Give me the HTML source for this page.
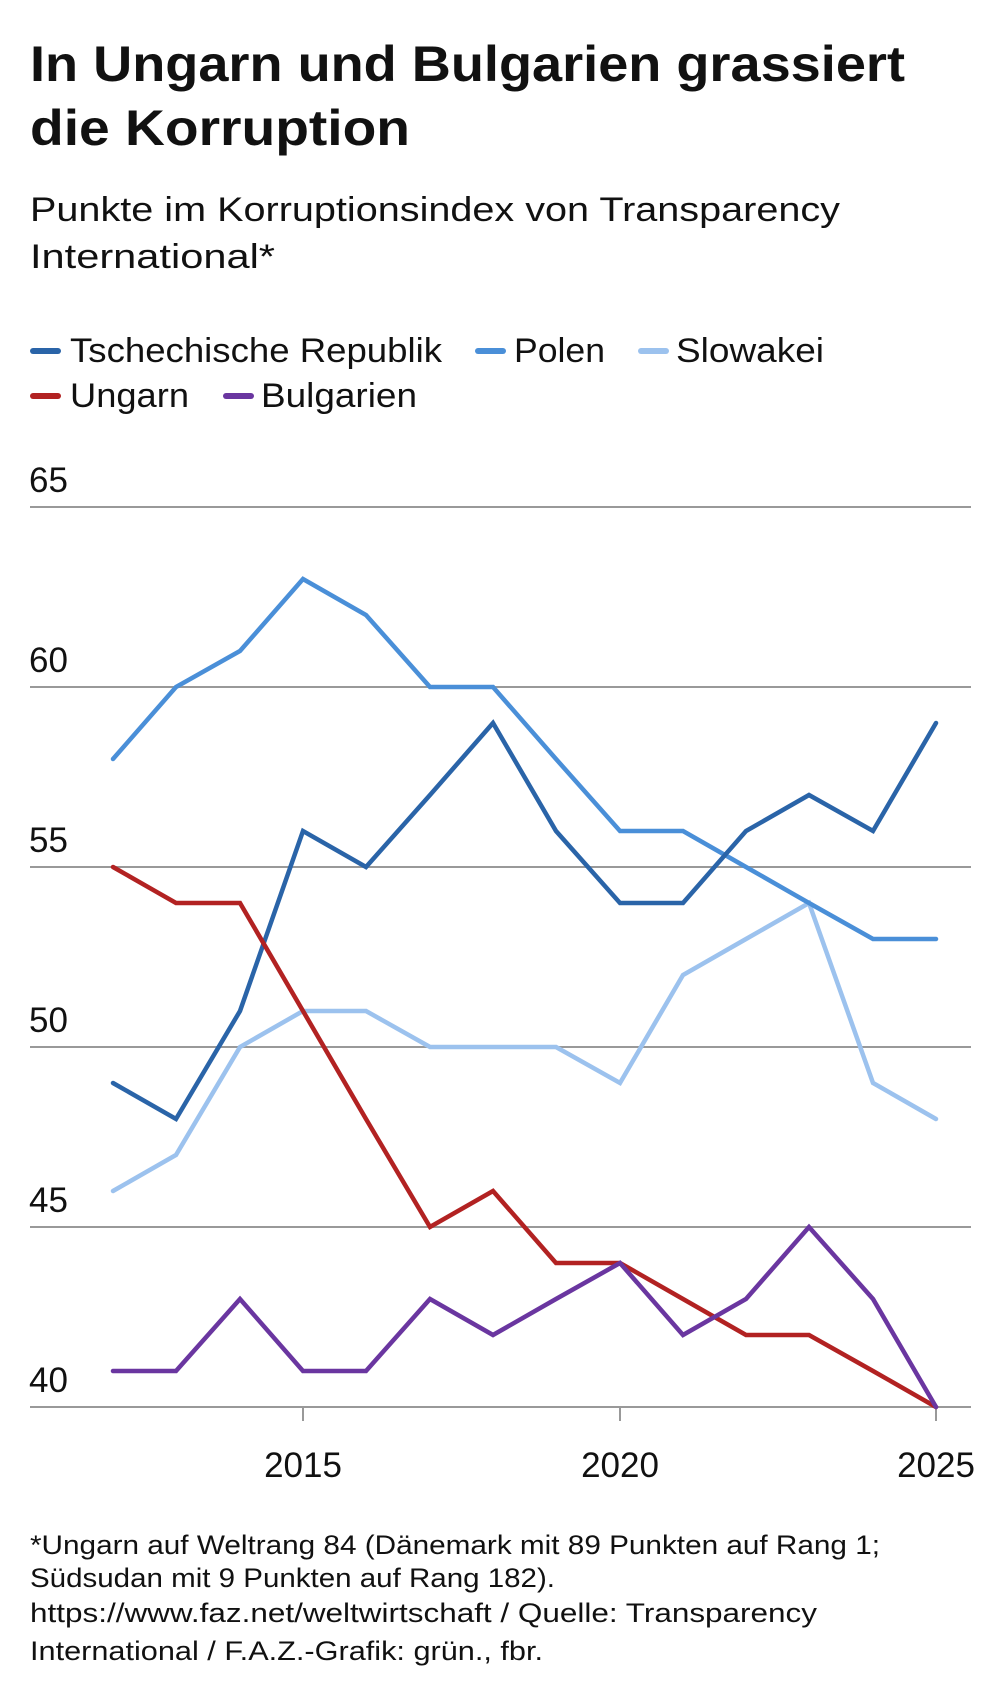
<!DOCTYPE html>
<html><head><meta charset="utf-8"><style>
html,body{margin:0;padding:0;background:#fff;}
svg{display:block;font-family:"Liberation Sans",sans-serif;}
</style></head><body>
<svg width="1005" height="1704" viewBox="0 0 1005 1704" xmlns="http://www.w3.org/2000/svg">
<g fill="#111">
<text x="30" y="81" font-size="50" font-weight="bold" textLength="875" lengthAdjust="spacingAndGlyphs">In Ungarn und Bulgarien grassiert</text>
<text x="30" y="145" font-size="50" font-weight="bold" textLength="380" lengthAdjust="spacingAndGlyphs">die Korruption</text>
<text x="30" y="221" font-size="34" textLength="810" lengthAdjust="spacingAndGlyphs">Punkte im Korruptionsindex von Transparency</text>
<text x="30" y="268" font-size="34" textLength="245" lengthAdjust="spacingAndGlyphs">International*</text>
<text x="70" y="362" font-size="34" textLength="372" lengthAdjust="spacingAndGlyphs">Tschechische Republik</text>
<text x="514" y="362" font-size="34" textLength="91" lengthAdjust="spacingAndGlyphs">Polen</text>
<text x="676" y="362" font-size="34" textLength="148" lengthAdjust="spacingAndGlyphs">Slowakei</text>
<text x="70" y="407" font-size="34" textLength="119" lengthAdjust="spacingAndGlyphs">Ungarn</text>
<text x="261" y="407" font-size="34" textLength="156" lengthAdjust="spacingAndGlyphs">Bulgarien</text>
</g>
<g stroke-width="6" stroke-linecap="round">
<line x1="33" y1="351" x2="58" y2="351" stroke="#2a64a8"/>
<line x1="478" y1="351" x2="503" y2="351" stroke="#4a8fd8"/>
<line x1="641" y1="351" x2="666" y2="351" stroke="#9cc2ee"/>
<line x1="33" y1="396" x2="58" y2="396" stroke="#b22222"/>
<line x1="226" y1="396" x2="251" y2="396" stroke="#6a36a0"/>
</g>
<g stroke="#999" stroke-width="2">
<line x1="30" y1="507" x2="971" y2="507"/>
<line x1="30" y1="687" x2="971" y2="687"/>
<line x1="30" y1="867" x2="971" y2="867"/>
<line x1="30" y1="1047" x2="971" y2="1047"/>
<line x1="30" y1="1227" x2="971" y2="1227"/>
<line x1="30" y1="1407" x2="971" y2="1407"/>
<line x1="303" y1="1407" x2="303" y2="1421"/>
<line x1="620" y1="1407" x2="620" y2="1421"/>
<line x1="936" y1="1407" x2="936" y2="1421"/>
</g>
<g fill="#111" font-size="35">
<text x="29" y="492">65</text>
<text x="29" y="672">60</text>
<text x="29" y="852">55</text>
<text x="29" y="1032">50</text>
<text x="29" y="1212">45</text>
<text x="29" y="1392">40</text>
<text x="303" y="1477" text-anchor="middle">2015</text>
<text x="620" y="1477" text-anchor="middle">2020</text>
<text x="936" y="1477" text-anchor="middle">2025</text>
</g>
<g fill="none" stroke-width="4.5" stroke-linejoin="miter" stroke-linecap="round">
<polyline stroke="#9cc2ee" points="113,1191 176,1155 240,1047 303,1011 366,1011 430,1047 493,1047 556,1047 620,1083 683,975 746,939 809,903 873,1083 936,1119"/>
<polyline stroke="#4a8fd8" points="113,759 176,687 240,651 303,579 366,615 430,687 493,687 556,759 620,831 683,831 746,867 809,903 873,939 936,939"/>
<polyline stroke="#2a64a8" points="113,1083 176,1119 240,1011 303,831 366,867 430,795 493,723 556,831 620,903 683,903 746,831 809,795 873,831 936,723"/>
<polyline stroke="#b22222" points="113,867 176,903 240,903 303,1011 366,1119 430,1227 493,1191 556,1263 620,1263 683,1299 746,1335 809,1335 873,1371 936,1407"/>
<polyline stroke="#6a36a0" points="113,1371 176,1371 240,1299 303,1371 366,1371 430,1299 493,1335 556,1299 620,1263 683,1335 746,1299 809,1227 873,1299 936,1407"/>
</g>
<g fill="#111" font-size="27">
<text x="30" y="1554" textLength="850" lengthAdjust="spacingAndGlyphs">*Ungarn auf Weltrang 84 (Dänemark mit 89 Punkten auf Rang 1;</text>
<text x="30" y="1587" textLength="525" lengthAdjust="spacingAndGlyphs">Südsudan mit 9 Punkten auf Rang 182).</text>
<text x="30" y="1622" textLength="787" lengthAdjust="spacingAndGlyphs">https://www.faz.net/weltwirtschaft / Quelle: Transparency</text>
<text x="30" y="1660" textLength="513" lengthAdjust="spacingAndGlyphs">International / F.A.Z.-Grafik: grün., fbr.</text>
</g>
</svg>
</body></html>
